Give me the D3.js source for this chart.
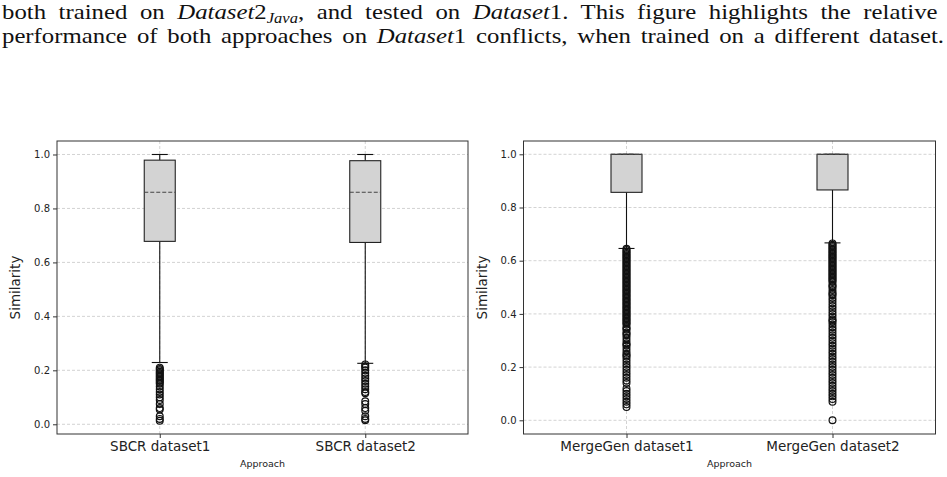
<!DOCTYPE html>
<html>
<head>
<meta charset="utf-8">
<script src="https://cdn.jsdelivr.net/npm/d3@7"></script>
<style>
  body { margin: 0; background: #fff; }
  svg { display: block; }
  .tick text { font-family: "DejaVu Sans", sans-serif; fill: #222; }
</style>
</head>
<body>
<svg width="947" height="477"></svg>
<script>
const svg = d3.select('svg');

// box statistics
const leftNames = ["SBCR dataset1", "SBCR dataset2"];
const leftStats = [
  { q1: 0.678, med: 0.860, q3: 0.979, lo: 0.229, hi: 1.0 },
  { q1: 0.674, med: 0.860, q3: 0.977, lo: 0.226, hi: 1.0 }
];
const leftOutliers = [
  [0.21, 0.205, 0.2, 0.195, 0.19, 0.185, 0.18, 0.175, 0.17, 0.165, 0.16, 0.155, 0.15, 0.14, 0.13, 0.12, 0.11, 0.1, 0.09, 0.075, 0.06, 0.055, 0.03, 0.02, 0.013],
  [0.222, 0.215, 0.21, 0.2, 0.19, 0.18, 0.17, 0.16, 0.15, 0.14, 0.13, 0.12, 0.115, 0.085, 0.075, 0.06, 0.05, 0.03, 0.02, 0.015]
];

const rightNames = ["MergeGen dataset1", "MergeGen dataset2"];
const rightStats = [
  { q1: 0.857, med: 1.0, q3: 1.0, lo: 0.646, hi: 1.0 },
  { q1: 0.866, med: 1.0, q3: 1.0, lo: 0.667, hi: 1.0 }
];
const rightOutliers = [
  [0.645, 0.64, 0.635, 0.63, 0.625, 0.62, 0.615, 0.61, 0.605, 0.6, 0.595, 0.59, 0.585, 0.58, 0.575, 0.57, 0.565, 0.56, 0.555, 0.55, 0.545, 0.54, 0.535, 0.53, 0.525, 0.52, 0.515, 0.51, 0.505, 0.5, 0.495, 0.49, 0.485, 0.48, 0.475, 0.47, 0.465, 0.46, 0.455, 0.45, 0.445, 0.44, 0.435, 0.43, 0.425, 0.42, 0.415, 0.41, 0.405, 0.4, 0.395, 0.39, 0.385, 0.38, 0.375, 0.37, 0.365, 0.36, 0.35, 0.345, 0.34, 0.33, 0.325, 0.32, 0.31, 0.3, 0.29, 0.285, 0.28, 0.27, 0.26, 0.25, 0.245, 0.24, 0.23, 0.22, 0.21, 0.2, 0.19, 0.18, 0.17, 0.16, 0.15, 0.14, 0.12, 0.11, 0.1, 0.09, 0.08, 0.07, 0.06, 0.05],
  [0.665, 0.66, 0.655, 0.65, 0.645, 0.64, 0.635, 0.63, 0.625, 0.62, 0.615, 0.61, 0.605, 0.6, 0.595, 0.59, 0.585, 0.58, 0.575, 0.57, 0.565, 0.56, 0.555, 0.55, 0.545, 0.54, 0.535, 0.53, 0.525, 0.52, 0.51, 0.505, 0.5, 0.49, 0.48, 0.475, 0.47, 0.46, 0.45, 0.44, 0.43, 0.42, 0.41, 0.4, 0.39, 0.38, 0.375, 0.37, 0.36, 0.35, 0.34, 0.33, 0.32, 0.31, 0.3, 0.29, 0.28, 0.27, 0.26, 0.25, 0.24, 0.23, 0.22, 0.21, 0.2, 0.19, 0.18, 0.17, 0.16, 0.15, 0.14, 0.13, 0.12, 0.11, 0.1, 0.09, 0.08, 0.07, 0.0]
];

const yTicks = [0, 0.2, 0.4, 0.6, 0.8, 1.0];

// caption text above the figure: widened a bit, then justified with word gaps
const serif = "Liberation Serif";
const stretch = 1.18;
const caption = svg.append("g").attr("transform", `translate(2,0) scale(${stretch},1)`);

const line1 = caption.append("text").attr("x", 0).attr("y", 19)
  .attr("font-family", serif).attr("font-size", 21).attr("fill", "#111");
line1.append("tspan").text("both trained on ");
line1.append("tspan").attr("font-style", "italic").text("Dataset");
line1.append("tspan").text("2");
line1.append("tspan").attr("font-style", "italic").attr("font-size", 14).attr("dy", 4).text("Java");
line1.append("tspan").attr("dy", -4).text(", and tested on ");
line1.append("tspan").attr("font-style", "italic").text("Dataset");
line1.append("tspan").text("1.  This figure highlights the relative");

const line2 = caption.append("text").attr("x", 0).attr("y", 43)
  .attr("font-family", serif).attr("font-size", 21).attr("fill", "#111");
line2.append("tspan").text("performance of both approaches on ");
line2.append("tspan").attr("font-style", "italic").text("Dataset");
line2.append("tspan").text("1 conflicts, when trained on a different dataset.");

[line1, line2].forEach(t => {
  const w = t.node().getComputedTextLength();
  const spaces = (t.text().match(/ /g) || []).length;
  t.attr("word-spacing", Math.max(0, (942 / stretch - w) / spaces).toFixed(2));
});

// draw one boxplot panel
const drawPanel = (left, right, domain, names, stats, outliers) => {
  const top = 141, bottom = 434;
  const y = d3.scaleLinear().domain(domain).range([bottom, top]);
  const x = d3.scalePoint().domain(names).range([left, right]).padding(0.5);
  const g = svg.append("g");

  // grid
  g.selectAll(".hgrid").data(yTicks).enter().append("line")
    .attr("x1", left).attr("x2", right)
    .attr("y1", d => y(d)).attr("y2", d => y(d))
    .attr("stroke", "#c8c8c8").attr("stroke-width", 0.8).attr("stroke-dasharray", "3,2");
  g.selectAll(".vgrid").data(names).enter().append("line")
    .attr("x1", d => x(d)).attr("x2", d => x(d))
    .attr("y1", top).attr("y2", bottom)
    .attr("stroke", "#c8c8c8").attr("stroke-width", 0.8).attr("stroke-dasharray", "3,2");

  const bw = 31, cap = 16;
  names.forEach((n, i) => {
    const s = stats[i], cx = x(n);
    // whiskers
    g.append("line").attr("x1", cx).attr("x2", cx).attr("y1", y(s.q3)).attr("y2", y(s.hi))
      .attr("stroke", "#111").attr("stroke-width", 1.1);
    g.append("line").attr("x1", cx).attr("x2", cx).attr("y1", y(s.q1)).attr("y2", y(s.lo))
      .attr("stroke", "#111").attr("stroke-width", 1.1);
    [s.hi, s.lo].forEach(v => {
      g.append("line").attr("x1", cx - cap / 2).attr("x2", cx + cap / 2)
        .attr("y1", y(v)).attr("y2", y(v)).attr("stroke", "#111").attr("stroke-width", 1.1);
    });
    // box
    g.append("rect").attr("x", cx - bw / 2).attr("width", bw)
      .attr("y", y(s.q3)).attr("height", y(s.q1) - y(s.q3))
      .attr("fill", "#d3d3d3").attr("stroke", "#222").attr("stroke-width", 1.1);
    g.append("line").attr("x1", cx - bw / 2).attr("x2", cx + bw / 2)
      .attr("y1", y(s.med)).attr("y2", y(s.med))
      .attr("stroke", "#444").attr("stroke-width", 1.2).attr("stroke-dasharray", "4,2");
    // outliers
    g.selectAll(".out" + i).data(outliers[i]).enter().append("circle")
      .attr("cx", cx).attr("cy", d => y(d)).attr("r", 3.4)
      .attr("fill", "none").attr("stroke", "#111").attr("stroke-width", 1.2);
  });

  // frame
  g.append("rect").attr("x", left).attr("y", top)
    .attr("width", right - left).attr("height", bottom - top)
    .attr("fill", "none").attr("stroke", "#333").attr("stroke-width", 1);

  // axes
  g.append("g").attr("transform", `translate(${left},0)`)
    .call(d3.axisLeft(y).tickValues(yTicks).tickFormat(d3.format(".1f")).tickSize(4).tickPadding(3))
    .call(a => a.select(".domain").remove())
    .call(a => a.selectAll(".tick text").style("font-size", "10px"))
    .call(a => a.selectAll(".tick line").attr("stroke", "#333"));
  g.append("g").attr("transform", `translate(0,${bottom})`)
    .call(d3.axisBottom(x).tickSize(4).tickPadding(3))
    .call(a => a.select(".domain").remove())
    .call(a => a.selectAll(".tick text").style("font-size", "13.5px").attr("fill", "#111"))
    .call(a => a.selectAll(".tick line").attr("stroke", "#333"));

  g.append("text")
    .attr("transform", `translate(${left - 37},${(top + bottom) / 2}) rotate(-90)`)
    .attr("text-anchor", "middle")
    .style("font-family", "'DejaVu Sans', sans-serif").style("font-size", "13.5px")
    .attr("fill", "#222").text("Similarity");
  g.append("text")
    .attr("x", (left + right) / 2).attr("y", 467).attr("text-anchor", "middle")
    .style("font-family", "'DejaVu Sans', sans-serif").style("font-size", "9.5px")
    .attr("fill", "#222").text("Approach");
};

drawPanel(57, 468, [-0.036, 1.05], leftNames, leftStats, leftOutliers);
drawPanel(523.5, 935.5, [-0.0515, 1.05], rightNames, rightStats, rightOutliers);
</script>
</body>
</html>
